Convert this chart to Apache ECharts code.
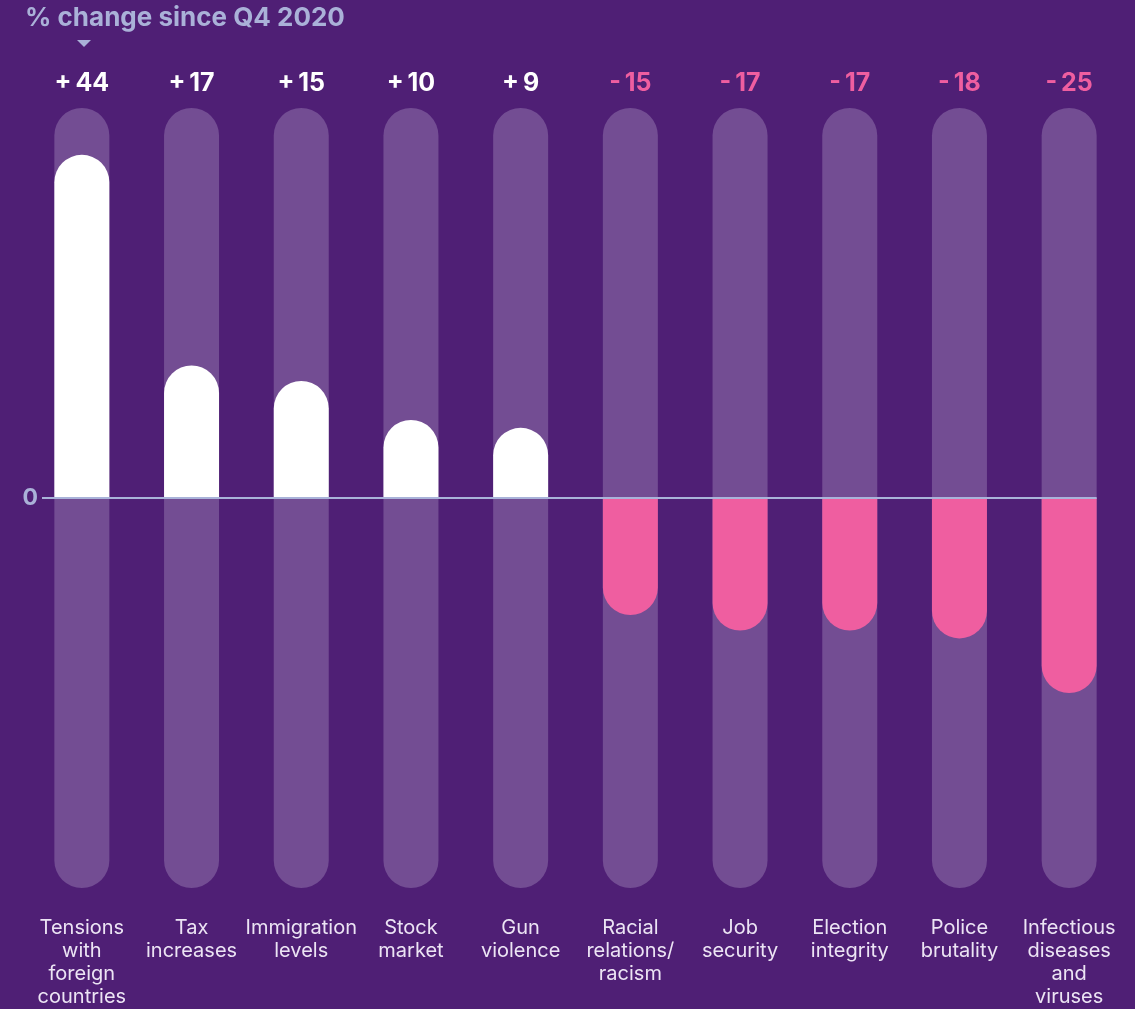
<!DOCTYPE html>
<html>
<head>
<meta charset="utf-8">
<script src="https://cdn.jsdelivr.net/npm/echarts@6/dist/echarts.min.js"></script>
<style>
  html, body { margin: 0; padding: 0; background: #4f1f75; }
  #chart { width: 1135px; height: 1009px; }
</style>
</head>
<body>
<div id="chart"></div>
<script>
var categories = [
  'Tensions\nwith\nforeign\ncountries',
  'Tax\nincreases',
  'Immigration\nlevels',
  'Stock\nmarket',
  'Gun\nviolence',
  'Racial\nrelations/\nracism',
  'Job\nsecurity',
  'Election\nintegrity',
  'Police\nbrutality',
  'Infectious\ndiseases\nand\nviruses'
]
var changes = [44, 17, 15, 10, 9, -15, -17, -17, -18, -25]
var yRange = [-50, 50]

var BAR_W = 55
var POS = '#ffffff'
var NEG = '#ef5ea0'

var chart = echarts.init(document.getElementById('chart'))

function fmt(v) {
  return v > 0 ? '+\u2009' + v : '-\u2009' + Math.abs(v)
}

var option = {
  backgroundColor: '#4f1f75',
  animation: false,
  textStyle: { fontFamily: 'Inter' },
  graphic: [{
    type: 'text',
    left: 25,
    top: 5,
    style: {
      text: '% change since Q4 2020',
      font: 'bold 26px Inter',
      fill: '#aab1d8'
    }
  }, {
    type: 'polygon',
    shape: { points: [[77, 40], [91, 40], [84, 47]] },
    style: { fill: '#aab1d8' }
  }],
  grid: { left: 27, right: 11, top: 108, bottom: 121 },
  xAxis: [{
    type: 'category',
    data: categories,
    axisLine: { show: false },
    axisTick: { show: false },
    axisLabel: {
      color: '#ece4f4',
      fontSize: 20,
      lineHeight: 23,
      margin: 28,
      verticalAlign: 'top',
      interval: 0
    }
  }, {
    type: 'category',
    position: 'top',
    data: changes.map(fmt),
    axisLine: { show: false },
    axisTick: { show: false },
    axisLabel: {
      interval: 0,
      margin: 12,
      fontSize: 25,
      fontWeight: 'bold',
      color: function (val, idx) {
        return changes[idx] >= 0 ? POS : NEG
      }
    }
  }],
  yAxis: {
    type: 'value',
    min: yRange[0],
    max: yRange[1],
    interval: 50,
    offset: -15,
    axisLine: { show: false },
    axisTick: { show: false },
    splitLine: { show: false },
    axisLabel: {
      margin: 4,
      color: '#aab1d8',
      fontSize: 23,
      fontWeight: 'bold',
      formatter: function (v) { return v === 0 ? '0' : '' }
    }
  },
  series: [{
    type: 'bar',
    barWidth: BAR_W,
    data: changes.map(function (v) {
      return {
        value: v,
        itemStyle: {
          color: v >= 0 ? POS : NEG,
          borderRadius: v >= 0 ? [BAR_W / 2, BAR_W / 2, 0, 0] : [0, 0, BAR_W / 2, BAR_W / 2]
        }
      }
    }),
    showBackground: true,
    backgroundStyle: {
      color: '#734d93',
      borderRadius: BAR_W / 2
    }
  }, {
    // zero line, from just right of the "0" label to the edge of the last bar
    type: 'custom',
    z: 5,
    data: [[0, 0]],
    renderItem: function (params, api) {
      var last = api.coord([categories.length - 1, 0])
      var zero = api.coord([0, 0])
      return {
        type: 'line',
        shape: {
          x1: params.coordSys.x + 15,
          y1: zero[1],
          x2: last[0] + BAR_W / 2,
          y2: zero[1]
        },
        style: { stroke: '#a9b3d9', lineWidth: 2 }
      }
    }
  }]
}

chart.setOption(option)
</script>
</body>
</html>
